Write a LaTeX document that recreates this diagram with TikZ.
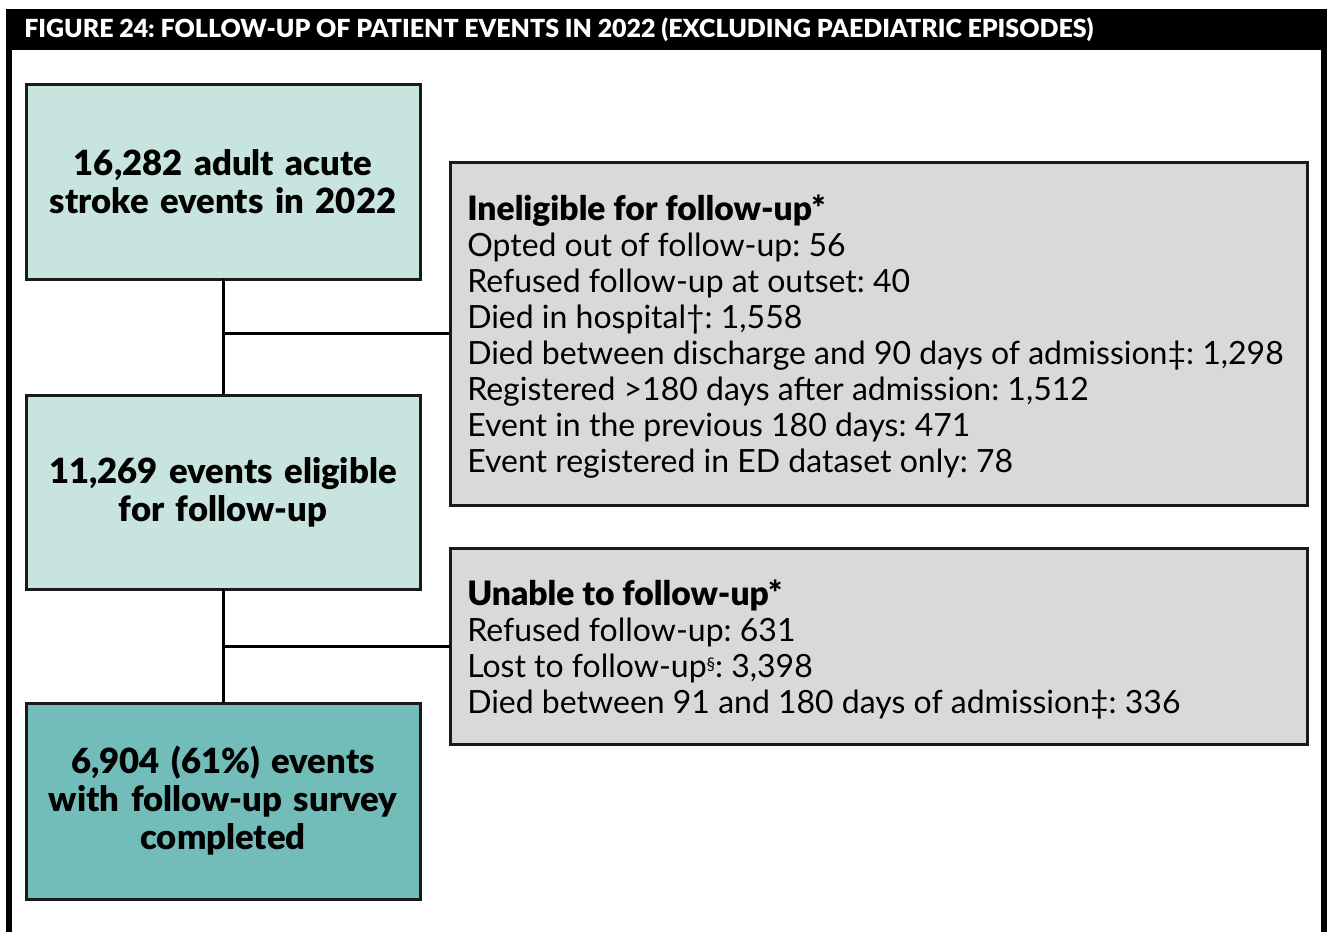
\documentclass[tikz,border=0pt]{standalone}
\usepackage{fontspec}
\setmainfont{Lato}
\newfontfamily\heavy{Lato Black}
\frenchspacing
\definecolor{lightteal}{HTML}{C8E4DF}
\definecolor{darkteal}{HTML}{72BDB9}
\definecolor{boxgray}{HTML}{D9D9D9}
\definecolor{edge}{HTML}{1A1A1A}
\begin{document}
\begin{tikzpicture}[x=0.75pt,y=-0.75pt,
  leftbox/.style={draw=edge, line width=2.25pt, outer sep=0pt, anchor=north west,
    minimum width=295.5pt, align=center, text width=290pt, inner xsep=2pt,
    font=\heavy\fontsize{26}{28.5}\selectfont},
  graybox/.style={draw=edge, line width=2.25pt, outer sep=0pt, anchor=north west,
    fill=boxgray, minimum width=642.75pt},
  graytext/.style={anchor=west, align=left, inner sep=0pt,
    font=\frenchspacing\fontsize{24}{27}\selectfont},
  conn/.style={draw=black, line width=2.25pt}
]
\useasboundingbox (0,0) rectangle (1330,932);
\fill[white] (0,0) rectangle (1330,932);
% frame
\fill[black] (6,9) rectangle (1327,50);
\fill[black] (6,9) rectangle (12,932);
\fill[black] (1321,9) rectangle (1327,932);
\node[anchor=west, text=white, font=\heavy\fontsize{18.7}{20}\selectfont, inner sep=0pt] (title) at (24,30)
  {FIGURE 24: FOLLOW-UP OF PATIENT EVENTS IN 2022 (EXCLUDING PAEDIATRIC EPISODES)};
% left boxes
\node[leftbox, fill=lightteal, minimum height=146.25pt] (b1) at (26,84)
  {16,282 adult acute\\stroke events in 2022};
\node[leftbox, fill=lightteal, minimum height=145.5pt] (b2) at (26,395)
  {11,269 events eligible\\for follow-up};
\node[leftbox, fill=darkteal, minimum height=147pt] (b3) at (26,703)
  {6,904 (61\%) events\\with follow-up survey\\completed};
% gray boxes
\node[graybox, minimum height=257.25pt] (g1) at (450,162) {};
\node[graytext] (g1t) at ([xshift=12.75pt,yshift=-2.4pt]g1.west)
  {{\heavy\fontsize{25.2}{27}\selectfont Ineligible for follow-up*}\\
   Opted out of follow-up: 56\\
   Refused follow-up at outset: 40\\
   Died in hospital†: 1,558\\
   Died between discharge and 90 days of admission‡: 1,298\\
   Registered >180 days after admission: 1,512\\
   Event in the previous 180 days: 471\\
   Event registered in ED dataset only: 78};
\node[graybox, minimum height=147pt] (g2) at (450,548) {};
\node[graytext] (g2t) at ([xshift=12.75pt,yshift=-2.6pt]g2.west)
  {{\heavy\fontsize{25.2}{27}\selectfont Unable to follow-up*}\\
   Refused follow-up: 631\\
   Lost to follow-up\raisebox{5pt}{\fontsize{13}{13}\selectfont §}: 3,398\\
   Died between 91 and 180 days of admission‡: 336};
% connectors
\draw[conn] (b1.south) -- (b2.north);
\draw[conn] (b2.south) -- (b3.north);
\draw[conn] (b1.south |- g1.west) -- (g1.west);
\draw[conn] (b2.south |- g2.west) -- (g2.west);
\end{tikzpicture}
\end{document}
